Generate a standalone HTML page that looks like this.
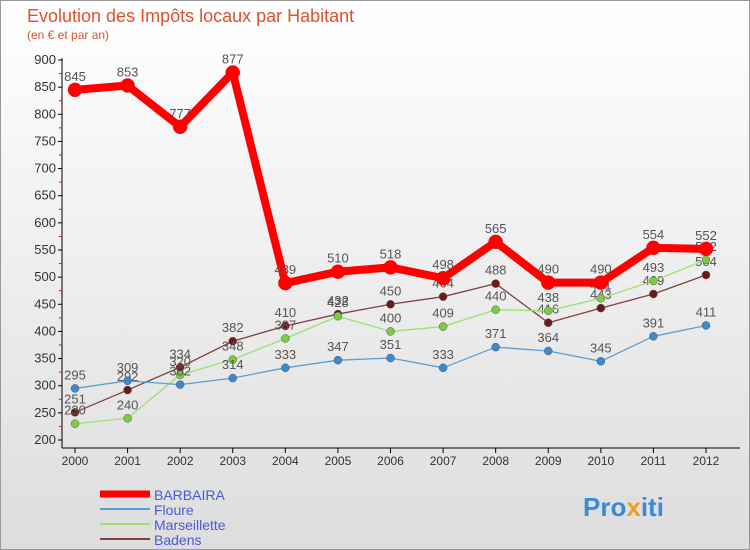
<!DOCTYPE html>
<html><head><meta charset="utf-8"><style>
body{margin:0;width:750px;height:550px;overflow:hidden;font-family:"Liberation Sans",sans-serif}
#wrap{position:relative;width:748px;height:548px;border:1px solid #999;background:linear-gradient(#fff,#ddd)}
</style></head><body>
<div id="wrap">
<svg id="c" width="750" height="550" style="position:absolute;left:-1px;top:-1px">
<text x="27" y="22" font-size="18" fill="#e05030">Evolution des Impôts locaux par Habitant</text>
<text x="27" y="39" font-size="12" fill="#e05030">(en € et par an)</text>
<g id="axes"></g><g id="series"></g><g id="legend"></g>
<text x="583" y="516" font-size="26" font-weight="bold" fill="#3a8ad8">Pro<tspan fill="#f0a020">x</tspan>iti</text>
</svg></div>
<script>
const years=[2000,2001,2002,2003,2004,2005,2006,2007,2008,2009,2010,2011,2012];
const yTicks=[200,250,300,350,400,450,500,550,600,650,700,750,800,850,900];
const barbaira=[845,853,777,877,489,510,518,498,565,490,490,554,552];
const floure=[295,309,302,314,333,347,351,333,371,364,345,391,411];
const marseillette=[230,240,320,348,387,428,400,409,440,438,461,493,532];
const badens=[251,292,334,382,410,432,450,464,488,416,443,469,504];
const NS="http://www.w3.org/2000/svg";
const X=i=>75+i*(706-75)/12, Y=v=>440-(v-200)*380/700;
function mk(t,a,p){const e=document.createElementNS(NS,t);for(const k in a)e.setAttribute(k,a[k]);p.appendChild(e);return e;}
const ax=document.getElementById('axes');
let l=mk('line',{x1:62,y1:58,x2:62,y2:448,stroke:'#000'},ax);


l=mk('line',{x1:62,y1:448,x2:740,y2:448,stroke:'#000'},ax);


yTicks.forEach(v=>{const y=Y(v);mk('line',{x1:58,y1:y,x2:62,y2:y,stroke:'#000'},ax);
 if(v<900)mk('line',{x1:59,y1:Y(v+25),x2:62,y2:Y(v+25),stroke:'red'},ax);
 const t=mk('text',{x:56,y:y+4,'font-size':13,'text-anchor':'end',fill:'#333'},ax);t.textContent=v;
 
 });
years.forEach((yr,i)=>{mk('line',{x1:X(i),y1:448,x2:X(i),y2:453,stroke:'#000'},ax);
 const t=mk('text',{x:X(i),y:465,'font-size':12,'text-anchor':'middle',fill:'#333'},ax);t.textContent=yr;
 
 });
const S=document.getElementById('series');
const defs=[['barbaira',barbaira,'#f00',8,7,'#f00'],['floure',floure,'#5a9fd4',1.3,4,'#3a8ad0'],['marseillette',marseillette,'#9ee070',1.3,4,'#7acc40'],['badens',badens,'#804040',1.3,4,'#701818']];
defs.slice().reverse().forEach(([n,d,c,w,r,fc])=>{const g=mk('g',{},S);
 
 
 mk('polyline',{points:d.map((v,i)=>X(i)+','+Y(v)).join(' '),fill:'none',stroke:c,'stroke-width':w,'stroke-linejoin':'round'},g);
 d.forEach((v,i)=>{const p=mk('circle',{cx:X(i),cy:Y(v),r:r,fill:fc,stroke:w>2?'#f00':'#555','stroke-width':0.5},g);
  
  
  const t=mk('text',{x:X(i),y:Y(v)-9,'font-size':13,'text-anchor':'middle',fill:'#555'},g);t.textContent=v;
  
  });});
const L=document.getElementById('legend');
[['BARBAIRA','#f00',7],['Floure','#5a9fd4',2],['Marseillette','#9ee070',2],['Badens','#804040',2]].forEach(([n,c,w],k)=>{
 const y=494+k*15;const g=mk('g',{},L);
 
 
 mk('line',{x1:100,y1:y,x2:150,y2:y,stroke:c,'stroke-width':w},g);
 const t=mk('text',{x:154,y:y+6,'font-size':14,fill:'#4a5ad8'},g);t.textContent=n;});
</script></body></html>
